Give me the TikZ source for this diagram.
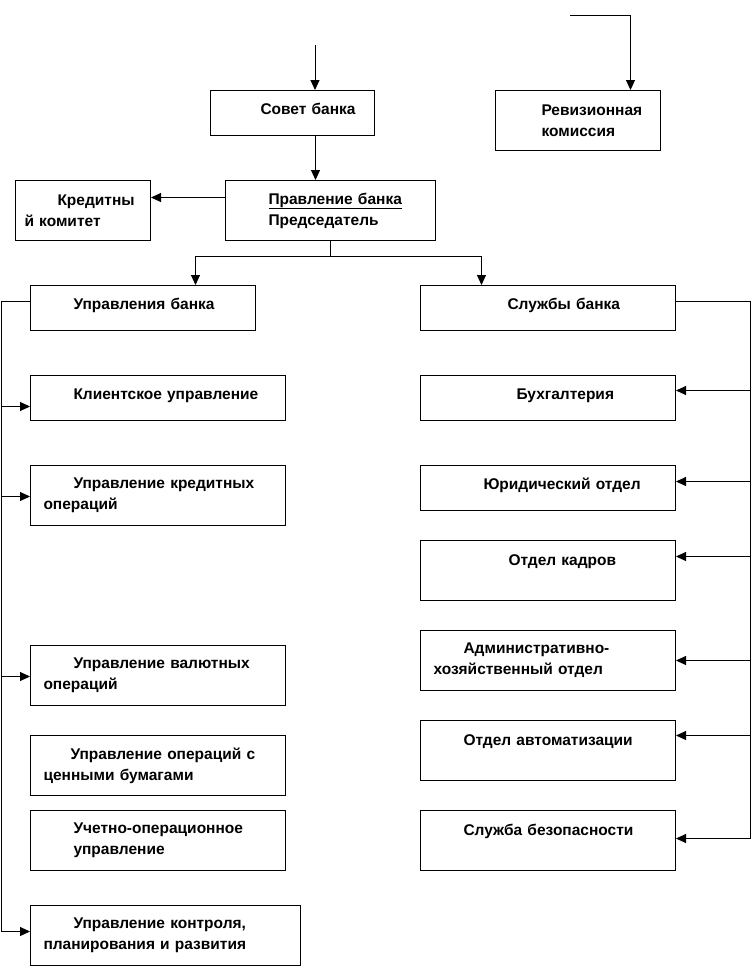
\documentclass[tikz,border=0pt]{standalone}
\usepackage{fontspec}
\setmainfont{Liberation Sans}
\usetikzlibrary{arrows.meta}

\begin{document}
\begin{tikzpicture}[x=1pt, y=-1pt,
  unit/.style={draw, line width=1pt, anchor=north west, inner xsep=13pt, inner ysep=0pt,
               align=left, font=\bfseries\fontsize{15.5}{21}\selectfont},
  oneline/.style={text height=11pt, text depth=8pt},
  arr/.style={-{Triangle[length=10pt,width=9pt]}, line width=1pt}
]
  \useasboundingbox (0,0) rectangle (752,975);

  % top level
  \node[unit, oneline, minimum width=164pt, minimum height=45pt, text width=138pt] (sovet) at (210,90)
    {\hspace*{37pt}Совет банка};
  \node[unit, minimum width=165pt, minimum height=60pt, text width=139pt] (rev) at (495,90)
    {\hspace*{33pt}Ревизионная\\\hspace*{33pt}комиссия};
  \node[unit, minimum width=210pt, minimum height=60pt, text width=184pt] (pravl) at (225,180)
    {\hspace*{30pt}\underline{Правление банка}\\\hspace*{30pt}Председатель};
  \node[unit, minimum width=135pt, minimum height=60pt, text width=109pt] (kred) at (15,180)
    {\hspace*{29pt}Кредитны\\\hspace*{-4pt}й комитет};

  % two branches
  \node[unit, oneline, minimum width=225pt, minimum height=45pt, text width=199pt] (upr) at (30,285)
    {\hspace*{30pt}Управления банка};
  \node[unit, oneline, minimum width=255pt, minimum height=45pt, text width=229pt] (sluzh) at (420,285)
    {\hspace*{74pt}Службы банка};

  % left column
  \node[unit, oneline, minimum width=255pt, minimum height=45pt, text width=229pt] (klient) at (30,375)
    {\hspace*{30pt}Клиентское управление};
  \node[unit, minimum width=255pt, minimum height=60pt, text width=229pt] (kredop) at (30,465)
    {\hspace*{30pt}Управление кредитных\\операций};
  \node[unit, minimum width=255pt, minimum height=60pt, text width=229pt] (valut) at (30,645)
    {\hspace*{30pt}Управление валютных\\операций};
  \node[unit, minimum width=255pt, minimum height=60pt, text width=229pt] (cenn) at (30,735)
    {\hspace*{27pt}Управление операций с\\ценными бумагами};
  \node[unit, minimum width=255pt, minimum height=60pt, text width=229pt] (uchet) at (30,810)
    {\hspace*{30pt}Учетно-операционное\\\hspace*{30pt}управление};
  \node[unit, minimum width=270pt, minimum height=60pt, text width=244pt] (kontr) at (30,905)
    {\hspace*{30pt}Управление контроля,\\планирования и развития};

  % right column
  \node[unit, oneline, minimum width=255pt, minimum height=45pt, text width=229pt] (buh) at (420,375)
    {\hspace*{83pt}Бухгалтерия};
  \node[unit, oneline, minimum width=255pt, minimum height=45pt, text width=229pt] (jur) at (420,465)
    {\hspace*{50pt}Юридический отдел};
  \node[unit, minimum width=255pt, minimum height=60pt, text width=229pt] (kadr) at (420,540)
    {\hspace*{75pt}Отдел кадров\\~};
  \node[unit, minimum width=255pt, minimum height=60pt, text width=229pt] (adm) at (420,630)
    {\hspace*{30pt}Административно-\\хозяйственный отдел};
  \node[unit, minimum width=255pt, minimum height=60pt, text width=229pt] (avt) at (420,720)
    {\hspace*{30pt}Отдел автоматизации\\~};
  \node[unit, minimum width=255pt, minimum height=60pt, text width=229pt] (bez) at (420,810)
    {\hspace*{30pt}Служба безопасности\\~};

  % connectors at the top
  \coordinate (topin) at (315,45);
  \coordinate (revin) at (570,15);
  \draw[arr] (topin) -- (topin |- sovet.north);
  \draw[arr] (revin) -| ([xshift=52.5pt]rev.north);
  \draw[arr] ([xshift=23pt]sovet.south) -- ([xshift=23pt]sovet.south |- pravl.north);
  \draw[arr] ([yshift=13pt]pravl.west) -- ([yshift=13pt]pravl.west -| kred.east);
  \draw[line width=1pt] (pravl.south) -- ++(0,15) coordinate (split);
  \draw[arr] (split) -| ([xshift=52.5pt]upr.north);
  \draw[arr] (split) -| ([xshift=-66.5pt]sluzh.north);

  % left bus
  \coordinate (lbus) at (1,0);
  \draw[line width=1pt] ([yshift=7pt]upr.west) -- ([yshift=7pt]upr.west -| lbus)
    -- ([yshift=4pt]kontr.west -| lbus);
  \foreach \n/\s in {klient/-8.5, kredop/-1, valut/-1, kontr/4}
    \draw[arr] ([yshift=\s pt]\n.west -| lbus) -- ([yshift=\s pt]\n.west);

  % right bus
  \coordinate (rbus) at (750,0);
  \draw[line width=1pt] ([yshift=7pt]sluzh.east) -- ([yshift=7pt]sluzh.east -| rbus)
    -- ([yshift=2pt]bez.east -| rbus);
  \foreach \n/\s in {buh/7.5, jur/6.5, kadr/14, adm/0, avt/15, bez/2}
    \draw[arr] ([yshift=\s pt]\n.east -| rbus) -- ([yshift=\s pt]\n.east);
\end{tikzpicture}
\end{document}
